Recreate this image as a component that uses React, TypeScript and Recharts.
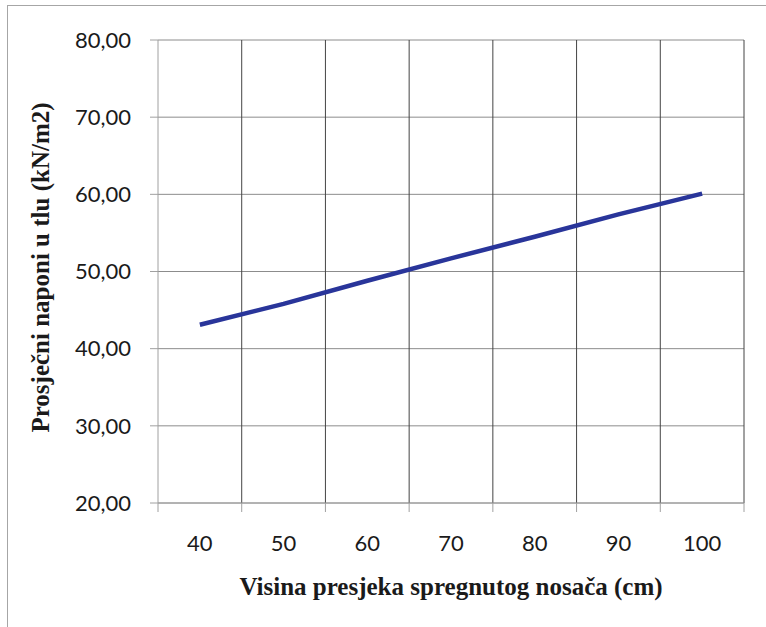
import { LineChart, Line, XAxis, YAxis, CartesianGrid, Label, ReferenceLine } from 'recharts';

// visina presjeka (cm) and average soil stress (kN/m2)
const heights = [40, 50, 60, 70, 80, 90, 100];
const stresses = [43.1, 45.8, 48.8, 51.7, 54.5, 57.4, 60.1];
const yTicks = [20, 30, 40, 50, 60, 70, 80];
const bandEdges = [35, 45, 55, 65, 75, 85, 95, 105];
const xTitle = 'Visina presjeka spregnutog nosača (cm)';
const yTitle = 'Prosječni naponi u tlu (kN/m2)';

const data = heights.map((h, i) => ({ h, v: stresses[i] }));

const tickFont = { fontFamily: 'Lato', fontSize: 22, fill: '#1a1a1a' };
const titleFont = { fontFamily: 'Liberation Serif', fontSize: 25, fontWeight: 700, fill: '#1a1a1a' };

const fmt = (v: number) => v.toFixed(2).replace('.', ',');

// category border: dark grid line plus a small grey tick under the axis
const EdgeLine = (props: any) => {
  const { x1, y1, y2 } = props;
  const top = Math.min(y1, y2);
  const bottom = Math.max(y1, y2);
  return (
    <g>
      {x1 > 160 && <line x1={x1} x2={x1} y1={top} y2={bottom} stroke="#444" strokeWidth={1} />}
      <line x1={x1} x2={x1} y1={bottom} y2={bottom + 9} stroke="#a0a0a0" strokeWidth={1} />
    </g>
  );
};

export default function App() {
  return (
    <div style={{ position: 'absolute', left: 0, top: 0, width: 766, height: 627, overflow: 'hidden', background: '#fff' }}>
      <div style={{ position: 'absolute', left: 7, top: 5, width: 800, height: 700, border: '1px solid #a6a6a6' }} />
      <div style={{ position: 'absolute', left: 0, top: 0 }}>
        <LineChart width={766} height={627} data={data} margin={{ top: 40, right: 22, bottom: 0, left: 0 }}>
          <XAxis
            type="number"
            dataKey="h"
            domain={[35, 105]}
            ticks={heights}
            height={124}
            tickLine={false}
            tickSize={0}
            tickMargin={32}
            axisLine={{ stroke: '#a0a0a0' }}
            tick={tickFont}
          >
            <Label
              content={({ viewBox }: any) => (
                <text x={viewBox.x + viewBox.width / 2} y={viewBox.y + 92} textAnchor="middle" {...titleFont}>
                  {xTitle}
                </text>
              )}
            />
          </XAxis>
          <YAxis
            type="number"
            domain={[20, 80]}
            ticks={yTicks}
            width={158}
            tickSize={8}
            tickMargin={19}
            tickLine={{ stroke: '#a0a0a0' }}
            axisLine={{ stroke: '#a0a0a0' }}
            tick={tickFont}
            tickFormatter={fmt}
          >
            <Label
              content={({ viewBox }: any) => {
                const x = 49;
                const y = viewBox.y + viewBox.height / 2 - 4;
                return (
                  <text x={x} y={y} transform={`rotate(-90, ${x}, ${y})`} textAnchor="middle" {...titleFont}>
                    {yTitle}
                  </text>
                );
              }}
            />
          </YAxis>
          <CartesianGrid horizontal vertical={false} stroke="#8c8c8c" />
          {bandEdges.map((e) => (
            <ReferenceLine key={e} x={e} ifOverflow="visible" shape={EdgeLine} />
          ))}
          <Line
            type="linear"
            dataKey="v"
            stroke="#29359a"
            strokeWidth={4.5}
            dot={false}
            isAnimationActive={false}
          />
        </LineChart>
      </div>
    </div>
  );
}
